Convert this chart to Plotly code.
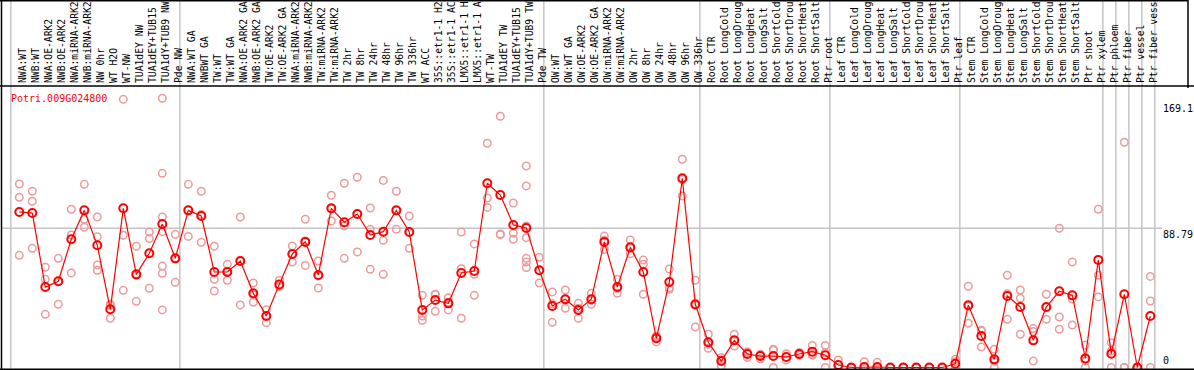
import plotly.graph_objects as go

gene = "Potri.009G024800"

categories = [
    "NWA:WT", "NWB:WT", "NWA:OE-ARK2", "NWB:OE-ARK2", "NWA:miRNA-ARK2", "NWB:miRNA-ARK2",
    "NW 0hr", "WT H2O", "WT-NW", "TUA1dEY NW", "TUA1dEY+TUB15 NW", "TUA1dY+TUB9 NW", "Pde NW",
    "NWA:WT GA", "NWBWT GA", "TW:WT", "TW:WT GA", "NWA:OE-ARK2 GA", "NWB:OE-ARK2 GA",
    "TW:OE-ARK2", "TW:OE-ARK2 GA", "NWA:miRNA-ARK2", "NWB:miRNA-ARK2", "TW:miRNA-ARK2",
    "TW:miRNA-ARK2", "TW 2hr", "TW 8hr", "TW 24hr", "TW 48hr", "TW 96hr", "TW 336hr",
    "WT ACC", "35S::etr1-1 H2O", "35S::etr1-1 ACC", "LMX5::etr1-1 H2O", "LMX5::etr1-1 ACC",
    "WT-TW", "TUA1dEY TW", "TUA1dEY+TUB15 TW", "TUA1dY+TUB9 TW", "Pde TW",
    "OW:WT", "OW:WT GA", "OW:OE-ARK2", "OW:OE-ARK2 GA", "OW:miRNA-ARK2", "OW:miRNA-ARK2",
    "OW 2hr", "OW 8hr", "OW 24hr", "OW 48hr", "OW 96hr", "OW 336hr",
    "Root CTR", "Root LongCold", "Root LongDrought", "Root LongHeat", "Root LongSalt",
    "Root ShortCold", "Root ShortDrought", "Root ShortHeat", "Root ShortSalt", "Ptr root",
    "Leaf CTR", "Leaf LongCold", "Leaf LongDrought", "Leaf LongHeat", "Leaf LongSalt",
    "Leaf ShortCold", "Leaf ShortDrought", "Leaf ShortHeat", "Leaf ShortSalt", "Ptr leaf",
    "Stem CTR", "Stem LongCold", "Stem LongDrought", "Stem LongHeat", "Stem LongSalt",
    "Stem ShortCold", "Stem ShortDrought", "Stem ShortHeat", "Stem ShortSalt",
    "Ptr shoot", "Ptr xylem", "Ptr phloem", "Ptr fiber", "Ptr vessel", "Ptr fiber vessel",
]

mean_values = [
    99.2, 98.5, 51.3, 55.0, 81.8, 100.2, 77.9, 37.1, 101.5, 59.4, 72.8, 91.5, 69.6,
    100.2, 96.6, 60.9, 60.9, 67.9, 47.3, 32.8, 53.0, 72.4, 80.1, 59.0, 101.5, 92.6,
    97.9, 84.5, 86.6, 100.2, 86.4, 36.7, 43.0, 40.9, 60.3, 61.5, 117.5, 110.0, 90.9,
    89.0, 62.0, 39.2, 43.5, 36.7, 43.5, 80.1, 51.3, 76.6, 60.9, 18.6, 54.5, 120.7,
    40.3, 16.1, 4.1, 17.3, 8.6, 7.3, 7.3, 6.7, 8.6, 10.1, 7.8, 1.6, 0.0, 0.3, 0.3,
    0.0, 0.0, 0.0, 0.0, 0.0, 2.4, 39.7, 20.1, 5.2, 45.6, 38.6, 17.3, 38.6, 48.6,
    46.0, 5.8, 68.6, 8.8, 46.7, 0.0, 32.8,
]

replicates = [
    [117, 108.5, 71.5], [112.4, 106, 76], [63.9, 56.2, 33.9], [69.6, 55.1, 40.3],
    [100.9, 84.5, 60.3], [116.8, 94.5, 89.4], [96, 83.4, 65.4, 62], [40.3, 39.6, 31.4],
    [171, 84.3, 49.2], [77.3, 58.7, 42.2], [86.4, 82.2, 50.5],
    [171.7, 123.8, 96, 86.6, 64.7, 60.1, 36.7], [84.9, 69.6, 54.3],
    [116.8, 100.2, 83.6], [112.4, 97.6, 79.8], [77.3, 56.2, 48.8], [65.8, 61.3, 55.6],
    [96, 67.8, 39.9], [53.9, 46.4, 41.6], [36.9, 33, 28.6], [55.6, 51.9, 51.6],
    [77.5, 72.4, 67.3], [94.5, 80.6, 65.1], [67.9, 58.4, 50.7], [109.8, 101.3, 93.4],
    [117.5, 90.2, 69.6], [121.3, 97.9, 73.7], [101.7, 88.1, 62.6], [119.3, 81.1, 59.4],
    [112.4, 100, 88.1], [96.6, 86.6, 76.0], [46.0, 32.8, 30.1], [46.7, 46.5, 35.8],
    [44.5, 41.6, 36.7], [86.4, 63.0, 31.4], [78.8, 59.4, 46.0], [143, 108.1, 102.1],
    [160.2, 85.1, 84.7], [104.9, 85.6, 81.7],
    [128.5, 115.8, 90.2, 82.8, 69.6, 67.3, 63.7], [70.3, 61.8, 53.9], [48.2, 40.6, 28.8],
    [49.4, 43.3, 37.7], [40.9, 37.8, 31.4], [47.3, 42.9, 40.3], [83.8, 81.2, 75.3],
    [56.2, 50.4, 47.3], [81.3, 76, 72.6], [68.5, 65.8, 46.7], [20.1, 19.4, 16.3],
    [62.8, 50.9, 49.9], [132.8, 119.9, 109.4], [55.6, 39.5, 25.8], [21.2, 14.9, 12.2],
    [6.3, 5, 1.0], [21.2, 17, 13.7], [10, 9.5, 6.3], [8.4, 8, 5.6], [11.6, 11, 0],
    [8.8, 6.5, 4.8], [9.5, 8.5, 7.8], [14.1, 8.4, 7.8], [14.1, 9.5, 0], [4.8, 0, 0],
    [0, 0, 0], [3.7, 0, 0], [3.3, 0, 0], [0, 0, 0], [0, 0, 0], [0, 0, 0], [0, 0, 0],
    [0, 0, 0], [5.2, 3.7, 0], [51.8, 39, 28.2], [23.8, 23.2, 13.1], [11.6, 4, 0],
    [58.8, 47.1, 30.7], [49.4, 44.1, 21.2], [24.8, 23, 4.1], [46.7, 38.4, 30.7],
    [88.8, 32.2, 24.4], [67.3, 43.6, 27.1], [14.3, 4.1, 0], [100.9, 58.8, 45.0],
    [15.8, 10.5, 0], [143.6, 0, 0], [0, 0, 0], [58.1, 42.4, 0],
]

# number of categories preceding each gray separator line
separators = [0, 13, 41, 53, 63, 73, 84, 85, 86, 87, 88]
ref_value = 88.79
max_label = "169.1"
ref_label = "88.79"
zero_label = "0"

# ---------------------------------------------------------------------------
W, H = 1194, 370
ML, MR, MT, MB = 2, 6, 86, 1
PW, PH = W - ML - MR, H - MT - MB
MONO = "DejaVu Sans Mono"
FS = 9.7


def px_x(p):
    return (p - ML) / PW


def px_y(p):
    return (H - MB - p) / PH


idx = list(range(len(categories)))
rx, ry = [], []
for i, reps in enumerate(replicates):
    for v in reps:
        rx.append(i)
        ry.append(v)

fig = go.Figure()
fig.add_trace(go.Scatter(
    x=rx, y=ry, mode="markers",
    marker=dict(symbol="circle-open", size=7.5, color="#ec9a9a", line=dict(width=1.5, color="#ec9a9a")),
    hoverinfo="skip", showlegend=False,
))
fig.add_trace(go.Scatter(
    x=idx, y=mean_values, mode="lines+markers",
    line=dict(color="#ff0000", width=1.2),
    marker=dict(symbol="circle-open", size=8, color="#ff0000", line=dict(width=2, color="#ff0000")),
    showlegend=False,
))

shapes = []
for k in separators:
    shapes.append(dict(type="line", xref="x", yref="paper", x0=k - 0.65, x1=k - 0.65,
                       y0=px_y(369), y1=px_y(0), line=dict(color="#c4c4c4", width=1.5), layer="below"))
shapes.append(dict(type="line", xref="paper", yref="y", x0=px_x(2), x1=px_x(1162),
                   y0=ref_value, y1=ref_value, line=dict(color="#c4c4c4", width=1.5), layer="below"))
frame = dict(color="#000000", width=1.5)
shapes += [
    dict(type="line", xref="paper", yref="paper", x0=px_x(0), x1=px_x(1188), y0=px_y(0.7), y1=px_y(0.7), line=frame),
    dict(type="line", xref="paper", yref="paper", x0=px_x(0), x1=px_x(1194), y0=px_y(86), y1=px_y(86), line=frame),
    dict(type="line", xref="paper", yref="paper", x0=px_x(0), x1=px_x(1194), y0=px_y(369.3), y1=px_y(369.3), line=frame),
    dict(type="line", xref="paper", yref="paper", x0=px_x(1.5), x1=px_x(1.5), y0=px_y(0), y1=px_y(370), line=frame),
    dict(type="line", xref="paper", yref="paper", x0=px_x(1188), x1=px_x(1188), y0=px_y(0), y1=px_y(88), line=frame),
]

annotations = [
    dict(text=gene, xref="paper", yref="paper", x=px_x(9), y=px_y(91), xanchor="left", yanchor="top",
         showarrow=False, font=dict(family=MONO, size=FS + 0.3, color="#ff0000")),
    dict(text=max_label, xref="paper", yref="y", x=px_x(1162), y=float(max_label), xanchor="left", yanchor="top",
         showarrow=False, font=dict(family=MONO, size=FS + 0.3, color="#000000"), borderpad=0),
    dict(text=ref_label, xref="paper", yref="y", x=px_x(1162), y=ref_value, xanchor="left", yanchor="top",
         showarrow=False, font=dict(family=MONO, size=FS + 0.3, color="#000000"), borderpad=0),
    dict(text=zero_label, xref="paper", yref="y", x=px_x(1162), y=0, xanchor="left", yanchor="bottom",
         showarrow=False, font=dict(family=MONO, size=FS + 0.3, color="#000000"), borderpad=0),
]

fig.update_layout(
    template="none",
    width=W, height=H,
    margin=dict(l=ML, r=MR, t=MT, b=MB, pad=0),
    paper_bgcolor="#ffffff", plot_bgcolor="#ffffff",
    shapes=shapes, annotations=annotations,
    xaxis=dict(
        range=[(ML - 19.3) / 13.0, (W - MR - 19.3) / 13.0],
        side="top", tickmode="array", tickvals=idx, ticktext=categories,
        tickangle=-90, ticks="", showgrid=False, zeroline=False, showline=False,
        ticklabelshift=4, ticklabelstandoff=2,
        tickfont=dict(family=MONO, size=FS, color="#000000"), automargin=False,
    ),
    yaxis=dict(
        range=[-0.96, 179.5], showticklabels=False, ticks="", showgrid=False,
        zeroline=False, showline=False, automargin=False,
    ),
)

fig.write_html(
    "out.html",
    config={"displayModeBar": False},
    post_script="document.body.style.margin='0';document.body.style.overflow='hidden';",
)
